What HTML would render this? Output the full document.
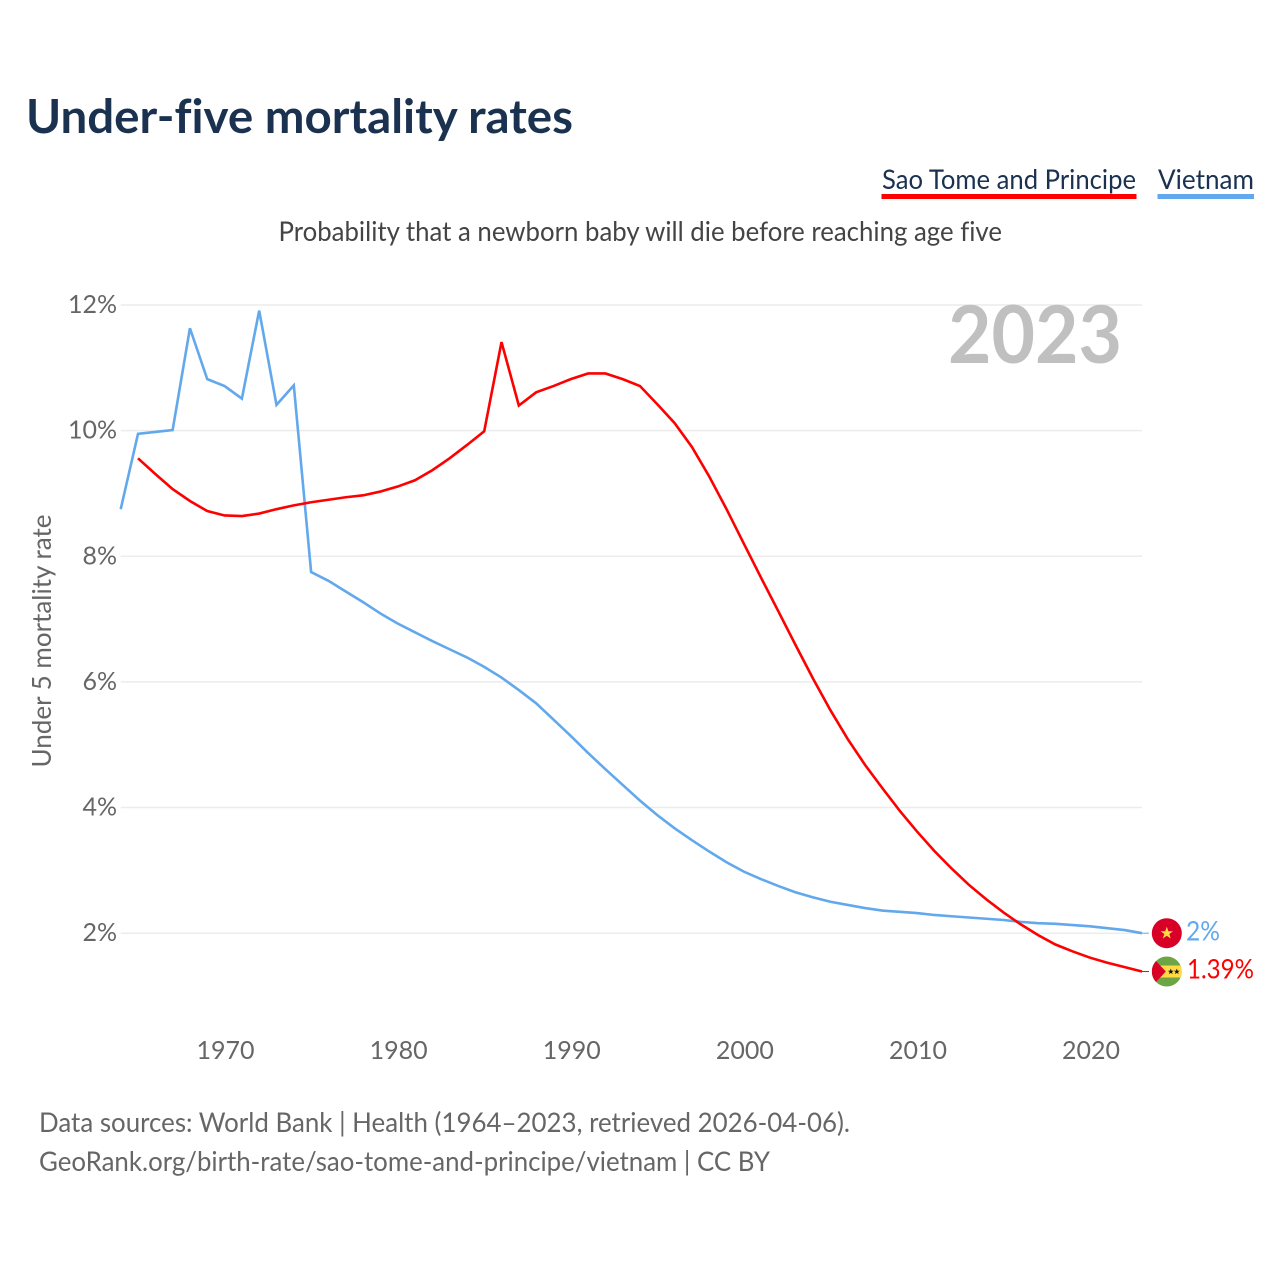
<!DOCTYPE html>
<html lang="en">
<head>
<meta charset="utf-8">
<title>Under-five mortality rates</title>
<style>
html,body{margin:0;padding:0;background:#fff;}
svg{display:block;}
text{font-family:"Lato","Carlito","Liberation Sans",sans-serif;font-variant-ligatures:none;}
</style>
</head>
<body>
<svg id="chart" xmlns="http://www.w3.org/2000/svg" width="1280" height="1280" viewBox="0 0 1280 1280">
  <rect x="0" y="0" width="1280" height="1280" fill="#ffffff"/>
  <text x="26" y="133" font-size="47" font-weight="700" fill="#1a3250" textLength="547" lengthAdjust="spacingAndGlyphs">Under-five mortality rates</text>

  <g>
    <text x="882" y="189" font-size="27" fill="#1a3250" textLength="254" lengthAdjust="spacingAndGlyphs">Sao Tome and Principe</text>
    <rect x="881.5" y="194" width="255" height="5" fill="#ff0000"/>
  </g>
  <g>
    <text x="1158" y="189" font-size="27" fill="#1a3250" textLength="96" lengthAdjust="spacingAndGlyphs">Vietnam</text>
    <rect x="1157.5" y="194" width="96.5" height="5" fill="#62a8ec"/>
  </g>

  <text x="278.5" y="241" font-size="27" fill="#444444" textLength="723.5" lengthAdjust="spacingAndGlyphs">Probability that a newborn baby will die before reaching age five</text>

  <g id="grid"></g>
  <g id="yticks"></g>
  <g id="xticks"></g>

  <text x="948" y="363" font-size="80" font-weight="700" fill="#c0c0c0" textLength="174" lengthAdjust="spacingAndGlyphs">2023</text>

  <text transform="translate(51,767.5) rotate(-90)" x="0" y="0" font-size="26" fill="#666666" textLength="253" lengthAdjust="spacingAndGlyphs">Under 5 mortality rate</text>

  <g id="series"></g>

  <g id="flag-vn">
    <circle cx="0" cy="0" r="15" fill="#d80027"/>
    <polygon points="0,-6.5 1.6,-2 6.2,-2 2.5,0.8 3.9,5.3 0,2.6 -3.9,5.3 -2.5,0.8 -6.2,-2 -1.6,-2" fill="#ffda44"/>
  </g>
  <g id="flag-st">
    <clipPath id="st-clip"><circle cx="0" cy="0" r="15"/></clipPath>
    <g clip-path="url(#st-clip)">
      <rect x="-15" y="-15" width="30" height="30" fill="#6da544"/>
      <rect x="-15" y="-6" width="30" height="12" fill="#ffda44"/>
      <polygon points="-15,-15 -1,0 -15,15" fill="#d80027"/>
      <polygon points="4,-3 4.8,-0.8 7,-0.8 5.2,0.5 5.9,2.6 4,1.4 2.1,2.6 2.8,0.5 1,-0.8 3.2,-0.8" fill="#111111"/>
      <polygon points="10,-3 10.8,-0.8 13,-0.8 11.2,0.5 11.9,2.6 10,1.4 8.1,2.6 8.8,0.5 7,-0.8 9.2,-0.8" fill="#111111"/>
    </g>
  </g>
  <text id="label-vn" x="1186" font-size="27" fill="#62a8ec" textLength="34" lengthAdjust="spacingAndGlyphs"></text>
  <text id="label-st" x="1187" font-size="27" fill="#ff0000" textLength="67" lengthAdjust="spacingAndGlyphs"></text>

  <text x="39" y="1132" font-size="27" fill="#666666" textLength="811" lengthAdjust="spacingAndGlyphs">Data sources: World Bank | Health (1964–2023, retrieved 2026-04-06).</text>
  <text x="39" y="1171" font-size="27" fill="#666666" textLength="731" lengthAdjust="spacingAndGlyphs">GeoRank.org/birth-rate/sao-tome-and-principe/vietnam | CC BY</text>
</svg>
<script>
const yearStart = 1964;
const vietnamValues = [8.75,9.95,9.98,10.01,11.63,10.82,10.71,10.51,11.91,10.41,10.72,7.75,7.61,7.44,7.27,7.09,6.93,6.79,6.65,6.52,6.39,6.24,6.07,5.87,5.66,5.40,5.14,4.87,4.61,4.36,4.11,3.88,3.67,3.48,3.30,3.13,2.98,2.86,2.75,2.65,2.57,2.50,2.45,2.40,2.36,2.34,2.32,2.29,2.27,2.25,2.23,2.21,2.18,2.16,2.15,2.13,2.11,2.08,2.05,2.00];
const saoTomeYearStart = 1965;
const saoTomeValues = [9.56,9.31,9.07,8.88,8.72,8.65,8.64,8.68,8.75,8.81,8.86,8.90,8.94,8.97,9.03,9.11,9.21,9.37,9.56,9.77,9.99,11.41,10.40,10.61,10.71,10.82,10.91,10.91,10.82,10.71,10.42,10.12,9.74,9.27,8.75,8.20,7.655,7.12,6.58,6.05,5.55,5.09,4.68,4.31,3.95,3.62,3.31,3.03,2.77,2.54,2.33,2.14,1.97,1.82,1.71,1.61,1.53,1.46,1.39];
const yTickValues = [2,4,6,8,10,12];
const xTickValues = [1970,1980,1990,2000,2010,2020];
const vietnamEndLabel = "2%";
const saoTomeEndLabel = "1.39%";

const NS = "http://www.w3.org/2000/svg";
const xScale = function (year) { return 120.7 + (year - 1964) * 17.31; };
const yScale = function (value) { return 933.2 - (value - 2) * 62.82; };
const plotRight = xScale(2023);

const grid = document.getElementById("grid");
const yticks = document.getElementById("yticks");
yTickValues.forEach(function (v) {
  const line = document.createElementNS(NS, "line");
  
  
  line.setAttribute("x1", 120.7);
  line.setAttribute("x2", plotRight);
  line.setAttribute("y1", yScale(v));
  line.setAttribute("y2", yScale(v));
  line.setAttribute("stroke", "#ececec");
  line.setAttribute("stroke-width", "1.5");
  grid.appendChild(line);
  const t = document.createElementNS(NS, "text");
  
  
  t.setAttribute("x", 117);
  t.setAttribute("y", yScale(v) + 8);
  t.setAttribute("text-anchor", "end");
  t.setAttribute("font-size", "25");
  t.setAttribute("fill", "#666666");
  t.textContent = v + "%";
  yticks.appendChild(t);
});

const xticks = document.getElementById("xticks");
xTickValues.forEach(function (yr) {
  const t = document.createElementNS(NS, "text");
  
  
  t.setAttribute("x", xScale(yr) + 1);
  t.setAttribute("y", 1059);
  t.setAttribute("text-anchor", "middle");
  t.setAttribute("font-size", "25");
  t.setAttribute("fill", "#666666");
  t.textContent = yr;
  xticks.appendChild(t);
});

const seriesGroup = document.getElementById("series");
function buildPoints(values, startYear) {
  return values.map(function (v, i) {
    return xScale(startYear + i).toFixed(2) + "," + yScale(v).toFixed(2);
  }).join(" ");
}

const vietnamLine = document.createElementNS(NS, "polyline");


vietnamLine.setAttribute("points", buildPoints(vietnamValues, yearStart));
vietnamLine.setAttribute("fill", "none");
vietnamLine.setAttribute("stroke", "#62a8ec");
vietnamLine.setAttribute("stroke-width", "2.6");
vietnamLine.setAttribute("stroke-linejoin", "miter");
seriesGroup.appendChild(vietnamLine);

const saoTomeLine = document.createElementNS(NS, "polyline");


saoTomeLine.setAttribute("points", buildPoints(saoTomeValues, saoTomeYearStart));
saoTomeLine.setAttribute("fill", "none");
saoTomeLine.setAttribute("stroke", "#ff0000");
saoTomeLine.setAttribute("stroke-width", "2.6");
saoTomeLine.setAttribute("stroke-linejoin", "miter");
seriesGroup.appendChild(saoTomeLine);

const vnY = yScale(vietnamValues[vietnamValues.length - 1]);
const stY = yScale(saoTomeValues[saoTomeValues.length - 1]);

const vnStub = document.createElementNS(NS, "line");


vnStub.setAttribute("x1", plotRight);
vnStub.setAttribute("x2", plotRight + 7);
vnStub.setAttribute("y1", vnY);
vnStub.setAttribute("y2", vnY);
vnStub.setAttribute("stroke", "#62a8ec");
vnStub.setAttribute("stroke-width", "1");
seriesGroup.appendChild(vnStub);

const stStub = document.createElementNS(NS, "line");


stStub.setAttribute("x1", plotRight);
stStub.setAttribute("x2", plotRight + 7);
stStub.setAttribute("y1", stY);
stStub.setAttribute("y2", stY);
stStub.setAttribute("stroke", "#ff0000");
stStub.setAttribute("stroke-width", "1");
seriesGroup.appendChild(stStub);

document.getElementById("flag-vn").setAttribute("transform", "translate(1166.8," + vnY.toFixed(2) + ")");
document.getElementById("flag-st").setAttribute("transform", "translate(1166.8," + stY.toFixed(2) + ")");
const labelVn = document.getElementById("label-vn");
labelVn.setAttribute("y", (vnY + 7.5).toFixed(2));
labelVn.textContent = vietnamEndLabel;
const labelSt = document.getElementById("label-st");
labelSt.setAttribute("y", (stY + 7).toFixed(2));
labelSt.textContent = saoTomeEndLabel;
</script>
</body>
</html>
